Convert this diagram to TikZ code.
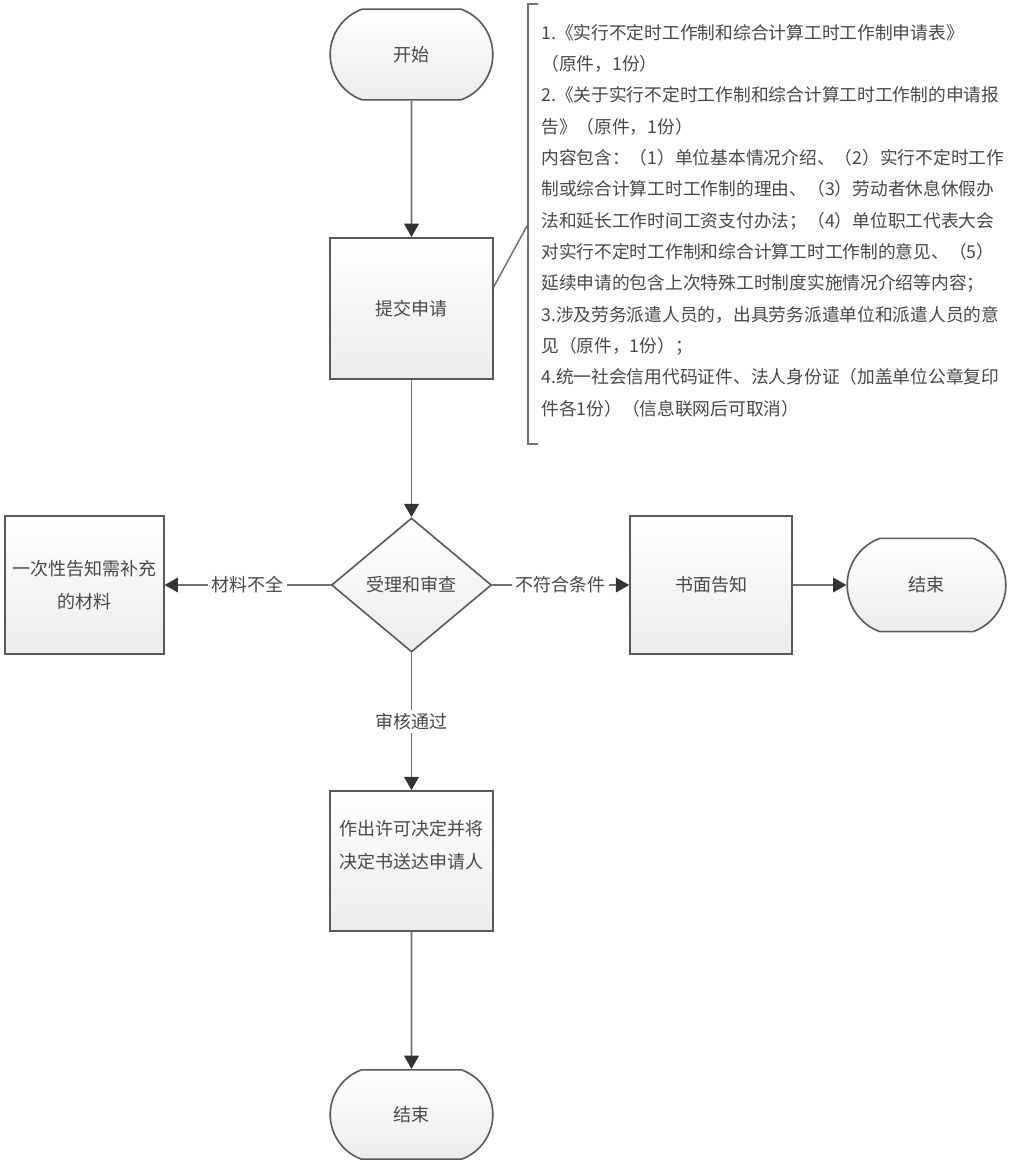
\documentclass[tikz,border=0pt]{standalone}
\usepackage{fontspec}
\newfontfamily\cjk{Noto Sans CJK SC}
\usetikzlibrary{shapes.geometric,shapes.misc,arrows.meta,calc}
\definecolor{txt}{HTML}{484848}
\definecolor{edgec}{HTML}{595959}
\definecolor{conn}{HTML}{707070}
\definecolor{tipc}{HTML}{333333}
\definecolor{shadebot}{HTML}{ECECEC}
\tikzset{
  shapebase/.style={draw=edgec, line width=1.2pt, top color=white, bottom color=shadebot,
    font=\cjk\fontsize{13.5}{25}\selectfont, text=txt, align=center, inner sep=0pt},
  procbox/.style={shapebase, rectangle},
  termbox/.style={shapebase, rounded rectangle, rounded rectangle arc length=140},
  decbox/.style={shapebase, diamond},
  flow/.style={draw=conn, line width=1.3pt, -{Triangle[length=10pt,width=11pt,color=tipc]}},
  plainline/.style={draw=conn, line width=1.1pt},
  lab/.style={fill=white, font=\cjk\fontsize{13.5}{16}\selectfont, text=txt, inner sep=2.5pt},
  note/.style={font=\cjk\fontsize{13.3}{23.5}\selectfont, text=txt, align=left, inner sep=0pt}
}
\begin{document}
\begin{tikzpicture}[x=0.75pt,y=-0.75pt]
\clip (0,0) rectangle (1010,1165);
\fill[white] (0,0) rectangle (1010,1165);

\node[termbox, minimum width=122pt, minimum height=68pt] (start) at (411.5,54.5) {开始};
\node[procbox, minimum width=122pt, minimum height=106pt] (submit) at (411.5,308.5) {提交申请};
\node[decbox, minimum width=120pt, minimum height=100.5pt] (review) at (411.5,585) {受理和审查};
\node[procbox, minimum width=119pt, minimum height=103.5pt] (fail) at (84.5,585) {一次性告知需补充\\的材料};
\node[procbox, minimum width=121.5pt, minimum height=103.5pt] (notify) at (711,585) {书面告知};
\node[termbox, minimum width=119pt, minimum height=70pt] (end1) at (926.5,585) {结束};
\node[procbox, minimum width=122pt, minimum height=105pt] (decide) at (411.5,861) {作出许可决定并将\\决定书送达申请人\\\mbox{}};
\node[termbox, minimum width=122pt, minimum height=67pt] (end2) at (411.5,1114.5) {结束};

\node[note, anchor=north west] (notes) at (541,24) {%
1.《实行不定时工作制和综合计算工时工作制申请表》\\
（原件，1份）\\
2.《关于实行不定时工作制和综合计算工时工作制的申请报\\
告》（原件，1份）\\
内容包含：（1）单位基本情况介绍、（2）实行不定时工作\\
制或综合计算工时工作制的理由、（3）劳动者休息休假办\\
法和延长工作时间工资支付办法；（4）单位职工代表大会\\
对实行不定时工作制和综合计算工时工作制的意见、（5）\\
延续申请的包含上次特殊工时制度实施情况介绍等内容；\\
3.涉及劳务派遣人员的，出具劳务派遣单位和派遣人员的意\\
见（原件，1份）；\\
4.统一社会信用代码证件、法人身份证（加盖单位公章复印\\
件各1份）（信息联网后可取消）};

\coordinate (brk) at (528,224);
\coordinate (bt) at (538,4);
\coordinate (bb) at (538,444);
\draw[plainline] (bt) -| (brk) |- (bb);
\draw[plainline] ($(submit.north east)!0.35!(submit.south east)$) -- (brk);

\draw[flow] (start) -- (submit);
\draw[flow] (submit) -- (review);
\draw[flow] (review) -- node[lab] {材料不全} (fail);
\draw[flow] (review) -- node[lab] {不符合条件} (notify);
\draw[flow] (notify) -- (end1);
\draw[flow] (review) -- node[lab] {审核通过} (decide);
\draw[flow] (decide) -- (end2);
\end{tikzpicture}
\end{document}
